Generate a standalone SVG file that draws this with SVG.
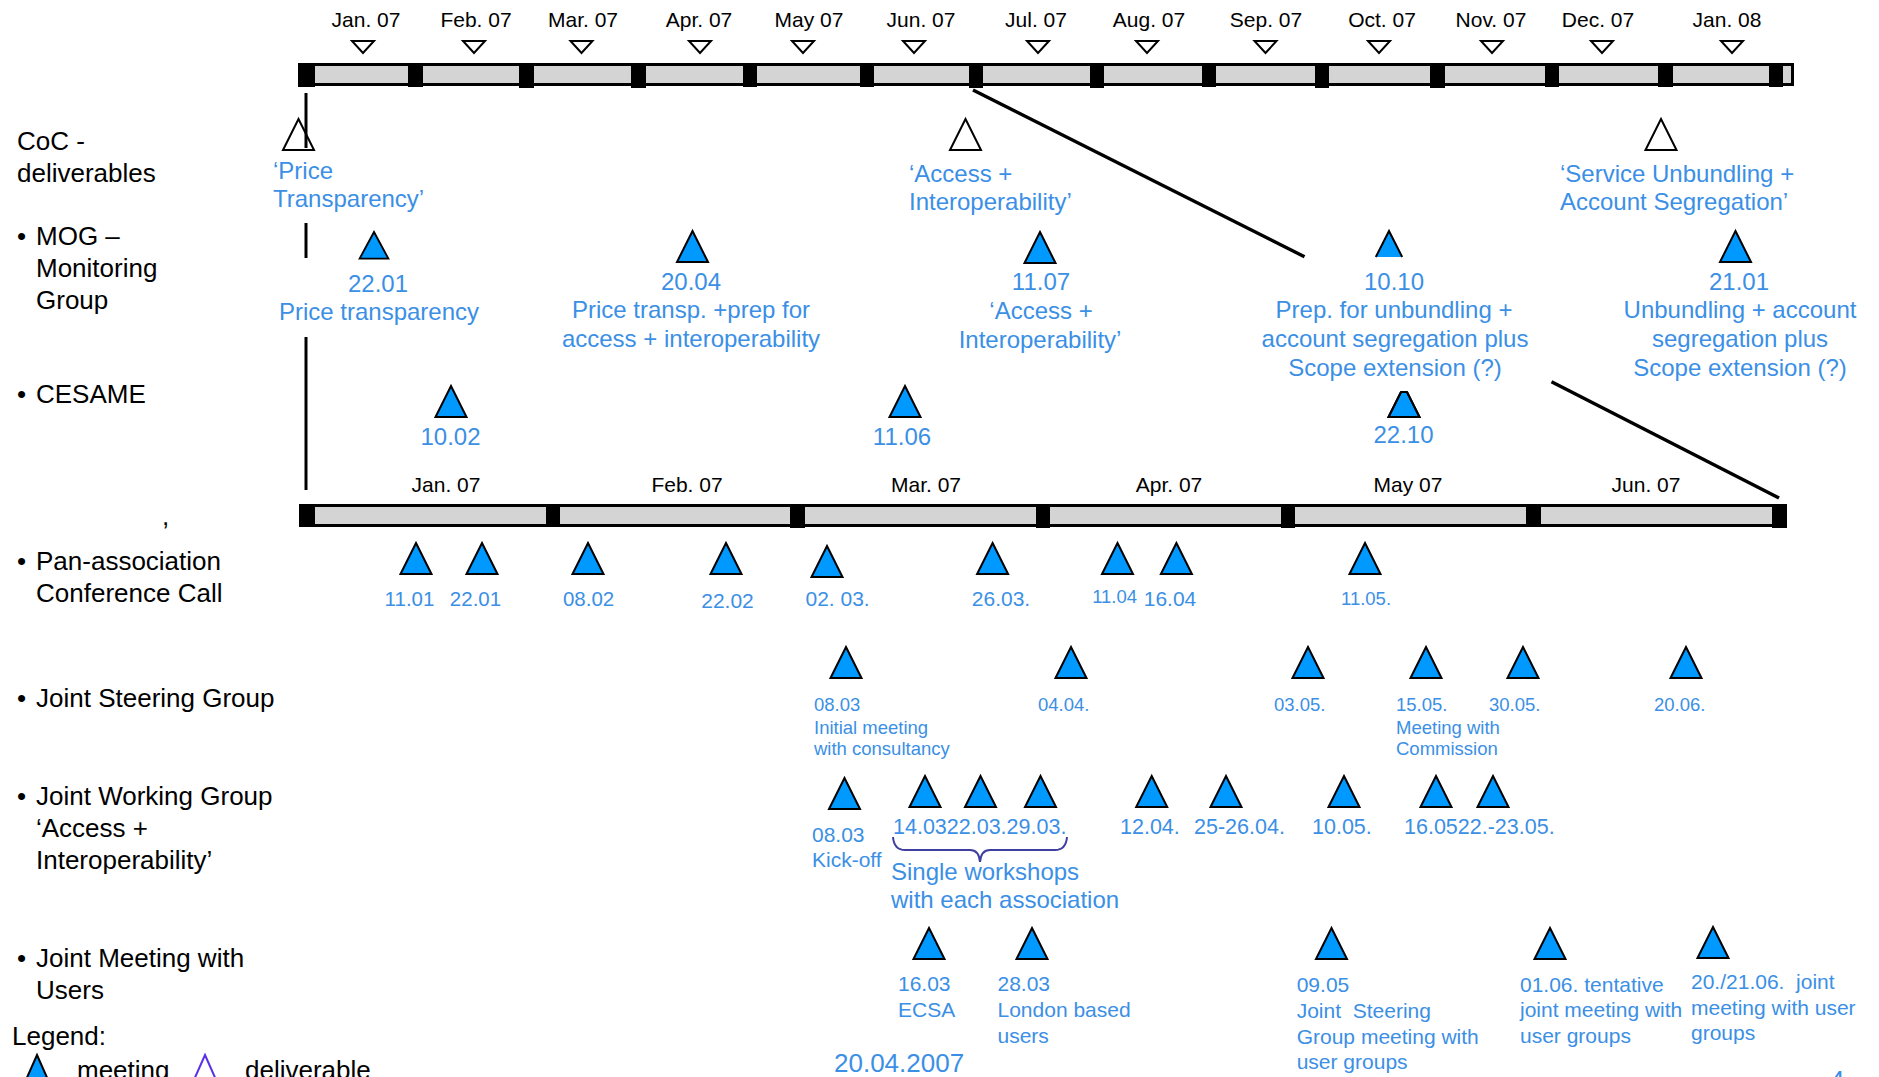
<svg xmlns="http://www.w3.org/2000/svg" xmlns:xlink="http://www.w3.org/1999/xlink" width="1879" height="1077" viewBox="0 0 1879 1077">
<style>
text{font-family:"Liberation Sans",Arial,sans-serif}
.lbl{font-size:26px;fill:#000}
.mon{font-size:21px;fill:#000;text-anchor:middle}
.b{fill:#3b8fe5}
.f24{font-size:24px}
.f21{font-size:21px}
.f20{font-size:20.5px}
.f18{font-size:18.5px}
.f26{font-size:26px}
.c{text-anchor:middle}
.pre{white-space:pre}
.meet{fill:#0099ff;stroke:#000;stroke-width:2;stroke-linejoin:miter}
.deliv{fill:#fff;stroke:#000;stroke-width:2}
.down{fill:#fff;stroke:#000;stroke-width:2}
.bar{fill:#d4d4d4;stroke:#000;stroke-width:3}
.blk{fill:#000}
.ln{stroke:#000;stroke-width:3;fill:none}
.dg{stroke:#000;stroke-width:3.5;fill:none}
</style>
<defs>
<path id="mt" class="meet" d="M0,0 L15.5,31 L-15.5,31 Z"/>
<path id="dt" class="deliv" d="M0,0 L15.5,31 L-15.5,31 Z"/>
<path id="dn" class="down" d="M-11,0 L11,0 L0,12 Z"/>
</defs>

<g id="top-timeline">
<rect class="bar" x="299.5" y="64.5" width="1493" height="20"/>
<rect class="blk" x="298" y="63" width="17" height="24"/>
<rect class="blk" x="408" y="63" width="15" height="24"/>
<rect class="blk" x="519" y="63" width="15" height="25"/>
<rect class="blk" x="631" y="63" width="15" height="25"/>
<rect class="blk" x="743" y="63" width="14" height="24"/>
<rect class="blk" x="860" y="63" width="14" height="24"/>
<rect class="blk" x="969" y="63" width="14" height="25"/>
<rect class="blk" x="1090" y="63" width="14" height="25"/>
<rect class="blk" x="1202" y="63" width="14" height="24"/>
<rect class="blk" x="1315" y="63" width="14" height="25"/>
<rect class="blk" x="1430" y="63" width="15" height="25"/>
<rect class="blk" x="1545" y="63" width="14" height="24"/>
<rect class="blk" x="1658" y="63" width="15" height="24"/>
<rect class="blk" x="1769" y="63" width="14" height="24"/>
<text class="mon" x="366" y="27">Jan. 07</text>
<text class="mon" x="476" y="27">Feb. 07</text>
<text class="mon" x="583" y="27">Mar. 07</text>
<text class="mon" x="699" y="27">Apr. 07</text>
<text class="mon" x="809" y="27">May 07</text>
<text class="mon" x="921" y="27">Jun. 07</text>
<text class="mon" x="1036" y="27">Jul. 07</text>
<text class="mon" x="1149" y="27">Aug. 07</text>
<text class="mon" x="1266" y="27">Sep. 07</text>
<text class="mon" x="1382" y="27">Oct. 07</text>
<text class="mon" x="1491" y="27">Nov. 07</text>
<text class="mon" x="1598" y="27">Dec. 07</text>
<text class="mon" x="1727" y="27">Jan. 08</text>
<use xlink:href="#dn" x="363" y="41"/>
<use xlink:href="#dn" x="474" y="41"/>
<use xlink:href="#dn" x="581.5" y="41"/>
<use xlink:href="#dn" x="700" y="41"/>
<use xlink:href="#dn" x="803" y="41"/>
<use xlink:href="#dn" x="914" y="41"/>
<use xlink:href="#dn" x="1038" y="41"/>
<use xlink:href="#dn" x="1147" y="41"/>
<use xlink:href="#dn" x="1265.5" y="41"/>
<use xlink:href="#dn" x="1379" y="41"/>
<use xlink:href="#dn" x="1492" y="41"/>
<use xlink:href="#dn" x="1602" y="41"/>
<use xlink:href="#dn" x="1732" y="41"/>
</g>

<g id="mid-timeline">
<rect class="bar" x="300.5" y="505.5" width="1485" height="20"/>
<rect class="blk" x="299" y="504" width="16" height="23"/>
<rect class="blk" x="546" y="504" width="14" height="23"/>
<rect class="blk" x="790" y="504" width="15" height="24"/>
<rect class="blk" x="1036" y="504" width="14" height="24"/>
<rect class="blk" x="1281" y="504" width="14" height="24"/>
<rect class="blk" x="1526" y="504" width="15" height="23"/>
<rect class="blk" x="1772" y="504" width="15" height="24"/>
<text class="mon" x="446" y="492">Jan. 07</text>
<text class="mon" x="687" y="492">Feb. 07</text>
<text class="mon" x="926" y="492">Mar. 07</text>
<text class="mon" x="1169" y="492">Apr. 07</text>
<text class="mon" x="1408" y="492">May 07</text>
<text class="mon" x="1646" y="492">Jun. 07</text>
</g>

<g id="row-labels">
<text class="lbl" x="17" y="150">CoC -</text>
<text class="lbl" x="17" y="182">deliverables</text>
<text class="lbl" x="17" y="245">•</text><text class="lbl" x="36" y="245">MOG –</text>
<text class="lbl" x="36" y="277">Monitoring</text>
<text class="lbl" x="36" y="309">Group</text>
<text class="lbl" x="17" y="403">•</text><text class="lbl" x="36" y="403">CESAME</text>
<text class="lbl" x="162" y="525">,</text>
<text class="lbl" x="17" y="570">•</text><text class="lbl" x="36" y="570">Pan-association</text>
<text class="lbl" x="36" y="602">Conference Call</text>
<text class="lbl" x="17" y="707">•</text><text class="lbl" x="36" y="707">Joint Steering Group</text>
<text class="lbl" x="17" y="805">•</text><text class="lbl" x="36" y="805">Joint Working Group</text>
<text class="lbl" x="36" y="837">‘Access +</text>
<text class="lbl" x="36" y="869">Interoperability’</text>
<text class="lbl" x="17" y="967">•</text><text class="lbl" x="36" y="967">Joint Meeting with</text>
<text class="lbl" x="36" y="999">Users</text>
</g>

<g id="coc-price">
<use xlink:href="#dt" x="298.5" y="119"/>
<text class="b f24" x="273" y="179">‘Price</text>
<text class="b f24" x="273" y="207">Transparency’</text>
</g>
<g id="coc-access">
<use xlink:href="#dt" x="965.5" y="119"/>
<text class="b f24" x="909" y="182">‘Access +</text>
<text class="b f24" x="909" y="210">Interoperability’</text>
</g>
<g id="coc-service">
<use xlink:href="#dt" x="1661" y="119"/>
<text class="b f24" x="1560" y="182">‘Service Unbundling +</text>
<text class="b f24" x="1560" y="210">Account Segregation’</text>
</g>

<g id="connectors">
<line class="ln" x1="306" y1="93" x2="306" y2="148"/>
<line class="ln" x1="306" y1="223" x2="306" y2="258"/>
<line class="ln" x1="306" y1="337" x2="306" y2="490"/>
<line class="dg" x1="973" y1="90" x2="1304.5" y2="256.7"/>
<line class="dg" x1="1551.5" y1="381.7" x2="1779" y2="498"/>
</g>

<g id="mog-2201">
<use xlink:href="#mt" transform="translate(374,232) scale(0.93,0.86)"/>
<text class="b f24 c" x="378" y="292">22.01</text>
<text class="b f24 c" x="379" y="320">Price transparency</text>
</g>
<g id="mog-2004">
<use xlink:href="#mt" x="692.5" y="231"/>
<text class="b f24 c" x="691" y="290">20.04</text>
<text class="b f24 c" x="691" y="318">Price transp. +prep for</text>
<text class="b f24 c" x="691" y="347">access + interoperability</text>
</g>
<g id="mog-1107">
<use xlink:href="#mt" x="1040" y="232"/>
<text class="b f24 c" x="1041" y="290">11.07</text>
<text class="b f24 c" x="1041" y="319">‘Access +</text>
<text class="b f24 c" x="1040" y="348">Interoperability’</text>
</g>
<g id="mog-1010">
<path d="M1389,231 L1402.2,257 L1375.8,257 Z" fill="#0099ff"/>
<path d="M1375.8,257 L1389,231 L1402.2,257" fill="none" stroke="#000" stroke-width="2"/>
<text class="b f24 c" x="1394" y="290">10.10</text>
<text class="b f24 c" x="1394" y="318">Prep. for unbundling +</text>
<text class="b f24 c" x="1395" y="347">account segregation plus</text>
<text class="b f24 c" x="1395" y="376">Scope extension (?)</text>
</g>
<g id="mog-2101">
<use xlink:href="#mt" x="1735.5" y="231"/>
<text class="b f24 c" x="1739" y="290">21.01</text>
<text class="b f24 c" x="1740" y="318">Unbundling + account</text>
<text class="b f24 c" x="1740" y="347">segregation plus</text>
<text class="b f24 c" x="1740" y="376">Scope extension (?)</text>
</g>

<g id="cesame-1002">
<use xlink:href="#mt" x="451" y="386"/>
<text class="b f24 c" x="450.5" y="445">10.02</text>
</g>
<g id="cesame-1106">
<use xlink:href="#mt" x="905" y="386"/>
<text class="b f24 c" x="902" y="445">11.06</text>
</g>
<g id="cesame-2210">
<path d="M1401,392 L1407,392 L1419.5,417 L1388.5,417 Z" class="meet" stroke="none"/>
<path d="M1401,392 L1388.5,417 L1419.5,417 L1407,392" fill="none" stroke="#000" stroke-width="2"/>
<text class="b f24 c" x="1403.5" y="443">22.10</text>
</g>

<g id="pan-1101"><use xlink:href="#mt" x="416" y="543"/><text class="b f20 c" x="409.5" y="606">11.01</text></g>
<g id="pan-2201"><use xlink:href="#mt" x="482" y="543"/><text class="b f20 c" x="475.5" y="606">22.01</text></g>
<g id="pan-0802"><use xlink:href="#mt" x="588" y="543"/><text class="b f20 c" x="588.6" y="606">08.02</text></g>
<g id="pan-2202"><use xlink:href="#mt" x="726" y="543"/><text class="b f21 c" x="727.5" y="608">22.02</text></g>
<g id="pan-0203"><use xlink:href="#mt" x="827" y="546"/><text class="b f21 c" x="837.6" y="606">02. 03.</text></g>
<g id="pan-2603"><use xlink:href="#mt" x="992.6" y="543"/><text class="b f21 c" x="1001" y="606">26.03.</text></g>
<g id="pan-1104"><use xlink:href="#mt" x="1117.5" y="543"/><text class="b f18 c" x="1114.6" y="603">11.04</text></g>
<g id="pan-1604"><use xlink:href="#mt" x="1176.4" y="543"/><text class="b f21 c" x="1170" y="606">16.04</text></g>
<g id="pan-1105"><use xlink:href="#mt" x="1365" y="543"/><text class="b f18 c" x="1366" y="605">11.05.</text></g>

<g id="jsg-0803">
<use xlink:href="#mt" x="846" y="647"/>
<text class="b f18" x="814" y="711">08.03</text>
<text class="b f18" x="814" y="734">Initial meeting</text>
<text class="b f18" x="814" y="755">with consultancy</text>
</g>
<g id="jsg-0404"><use xlink:href="#mt" x="1071" y="647"/><text class="b f18" x="1038" y="711">04.04.</text></g>
<g id="jsg-0305"><use xlink:href="#mt" x="1308" y="647"/><text class="b f18" x="1274" y="711">03.05.</text></g>
<g id="jsg-1505">
<use xlink:href="#mt" x="1426" y="647"/>
<text class="b f18" x="1396" y="711">15.05.</text>
<text class="b f18" x="1396" y="734">Meeting with</text>
<text class="b f18" x="1396" y="755">Commission</text>
</g>
<g id="jsg-3005"><use xlink:href="#mt" x="1523" y="647"/><text class="b f18" x="1489" y="711">30.05.</text></g>
<g id="jsg-2006"><use xlink:href="#mt" x="1686" y="647"/><text class="b f18" x="1654" y="711">20.06.</text></g>

<g id="jwg-0803">
<use xlink:href="#mt" x="844.5" y="778"/>
<text class="b f21" x="812" y="842">08.03</text>
<text class="b f21" x="812" y="867">Kick-off</text>
</g>
<g id="jwg-workshops">
<use xlink:href="#mt" x="925" y="776"/>
<use xlink:href="#mt" x="980.5" y="776"/>
<use xlink:href="#mt" x="1040.5" y="776"/>
<text class="b" style="font-size:21.5px" x="893" y="834">14.0322.03.29.03.</text>
<path d="M893,837 Q894,850 905,850 L970,850 Q979,850 980,862 Q981,850 990,850 L1055,850 Q1066,850 1067,837" fill="none" stroke="#3f3f9f" stroke-width="2"/>
<text class="b f24" x="891" y="880">Single workshops</text>
<text class="b f24" x="891" y="908">with each association</text>
</g>
<g id="jwg-1204"><use xlink:href="#mt" x="1151.7" y="776"/><text class="b" style="font-size:21.5px" x="1120" y="834">12.04.</text></g>
<g id="jwg-2504"><use xlink:href="#mt" x="1226" y="776"/><text class="b" style="font-size:21.5px" x="1194" y="834">25-26.04.</text></g>
<g id="jwg-1005"><use xlink:href="#mt" x="1344" y="776"/><text class="b" style="font-size:21.5px" x="1312" y="834">10.05.</text></g>
<g id="jwg-1605">
<use xlink:href="#mt" x="1436" y="776"/>
<use xlink:href="#mt" x="1493" y="776"/>
<text class="b" style="font-size:21.5px" x="1404" y="834">16.0522.-23.05.</text>
</g>

<g id="jmu-1603">
<use xlink:href="#mt" x="929" y="928"/>
<text class="b f21" x="898" y="991">16.03</text>
<text class="b f21" x="898" y="1017">ECSA</text>
</g>
<g id="jmu-2803">
<use xlink:href="#mt" x="1032" y="928"/>
<text class="b f21" x="997.5" y="991">28.03</text>
<text class="b f21" x="997.5" y="1017">London based</text>
<text class="b f21" x="997.5" y="1043">users</text>
</g>
<g id="jmu-0905">
<use xlink:href="#mt" x="1331.5" y="928"/>
<text class="b f21" x="1296.7" y="992">09.05</text>
<text class="b f21 pre" x="1296.7" y="1018">Joint  Steering</text>
<text class="b f21" x="1296.7" y="1044">Group meeting with</text>
<text class="b f21" x="1296.7" y="1069">user groups</text>
</g>
<g id="jmu-0106">
<use xlink:href="#mt" x="1550" y="928"/>
<text class="b f21" x="1520" y="992">01.06. tentative</text>
<text class="b f21" x="1520" y="1017">joint meeting with</text>
<text class="b f21" x="1520" y="1043">user groups</text>
</g>
<g id="jmu-2006">
<use xlink:href="#mt" x="1713" y="927"/>
<text class="b f21 pre" x="1691" y="989">20./21.06.  joint</text>
<text class="b f21" x="1691" y="1015">meeting with user</text>
<text class="b f21" x="1691" y="1040">groups</text>
</g>

<g id="footer">
<text class="b f26" x="834" y="1072">20.04.2007</text>
<text class="b f26" x="1830" y="1089">4</text>
</g>

<g id="legend">
<text class="lbl" x="12" y="1045">Legend:</text>
<path class="meet" d="M37,1055 L49,1082 L25,1082 Z"/>
<text class="lbl" x="77" y="1079">meeting</text>
<path d="M205,1055 L217,1082 L193,1082 Z" fill="#fff" stroke="#5a2ee8" stroke-width="2"/>
<text class="lbl" x="245" y="1079">deliverable</text>
</g>
</svg>
